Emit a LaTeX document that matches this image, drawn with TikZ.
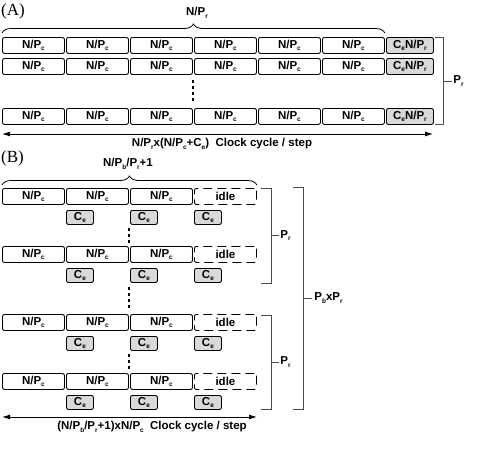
\documentclass[tikz,border=0pt]{standalone}
\usepackage{fontspec}
\setmainfont{Liberation Serif}
\setsansfont{Liberation Sans}
\usetikzlibrary{arrows.meta}
\usetikzlibrary{decorations.pathreplacing}
\usetikzlibrary{calc}

\newcommand{\sbs}[1]{\raisebox{-2.5pt}{\fontsize{6.5}{7}\selectfont #1}}

\begin{document}
\begin{tikzpicture}[x=1pt, y=-1pt]
    \tikzset{
        every node/.style={font=\sffamily\bfseries\fontsize{11.5}{12}\selectfont},
        blk/.style={draw, line width=0.9pt, rounded corners=2pt, anchor=north west, inner sep=0pt,
            minimum width=62pt, minimum height=16pt},
        gblk/.style={blk, fill=gray!30, minimum width=47pt},
        ceblk/.style={blk, fill=gray!30, minimum width=27pt, minimum height=14pt},
        idleblk/.style={blk, dashed, dash pattern=on 9pt off 5pt},
        dots/.style={line width=2.5pt, dash pattern=on 3pt off 3pt},
        brc/.style={decorate, decoration={brace, amplitude=9pt}, line width=0.8pt},
        bkt/.style={gray!60!black, line width=0.9pt},
        span/.style={{Latex[length=8pt,width=5pt]}-{Latex[length=8pt,width=5pt]}, line width=0.9pt}
    }
    \useasboundingbox (0,0) rectangle (491,466);

    % (A)
    \node [font=\rmfamily\fontsize{17}{18}\selectfont, anchor=north west, inner sep=0pt] (labA) at (1,4) {(A)};

    \foreach \r/\y in {1/37, 2/58, 3/108} {
        \foreach \i in {0,...,5} {
            \node [blk] (a\r\i) at ({2+64*\i}, \y) {N/P\sbs{c}};
        }
        \node [gblk] (a\r g) at (386, \y) {C\sbs{e}N/P\sbs{r}};
    }
    \draw [dots] ([xshift=-1pt, yshift=-5pt]a23.south west) -- ([xshift=-1pt, yshift=5pt]a33.north west);

    \draw [brc] ([yshift=4pt]a10.north west) -- ([yshift=4pt]a15.north east);
    \node (nr) at (197,13) {N/P\sbs{r}};

    \coordinate (bt) at ([xshift=10pt]a1g.north east);
    \coordinate (bb) at ([xshift=10pt]a3g.south east);
    \draw [bkt] ([xshift=1pt]a1g.north east) -- (bt) -- (bb) -- ([xshift=1pt]a3g.south east);
    \draw [bkt] ($(bt)!0.5!(bb)$) -- ++(8,0) node [right, inner sep=1pt, black] (pra) {P\sbs{r}};

    \coordinate (al) at (2,134);
    \coordinate (ar) at (433,134);
    \draw [span] (al) -- (ar);
    \node [anchor=north] (clka) at (222,135) {N/P\sbs{r}x(N/P\sbs{c}+C\sbs{e})\ \ Clock cycle / step};

    % (B)
    \node [font=\rmfamily\fontsize{17}{18}\selectfont, anchor=north west, inner sep=0pt] (labB) at (1,151) {(B)};

    \foreach \r/\y in {1/188, 2/246, 3/314, 4/373} {
        \foreach \i in {0,1,2} {
            \node [blk] (b\r\i) at ({2+64*\i}, \y) {N/P\sbs{c}};
            \node [ceblk] (c\r\i) at ({66+64*\i}, \y+22) {C\sbs{e}};
        }
        \node [idleblk] (b\r 3) at (194, \y) {idle};
    }
    \draw [dots] ([xshift=-1pt, yshift=-3pt]c11.south west) -- ([xshift=-1pt, yshift=3pt]b22.north west);
    \draw [dots] ([xshift=-1pt, yshift=-4pt]c21.south west) -- ([xshift=-1pt, yshift=4pt]b32.north west);
    \draw [dots] ([xshift=-1pt, yshift=-3pt]c31.south west) -- ([xshift=-1pt, yshift=3pt]b42.north west);

    \draw [brc] ([yshift=3pt]b10.north west) -- ([yshift=3pt]b13.north east);
    \node (npb) at (128,164) {N/P\sbs{b}/P\sbs{r}+1};

    \coordinate (b1t) at (271,188);
    \coordinate (b1b) at (271,283);
    \draw [bkt] (261,188) -- (b1t) -- (b1b) -- (261,283);
    \draw [bkt] ($(b1t)!0.5!(b1b)$) -- ++(8,0) node [right, inner sep=1pt, black] (prb1) {P\sbs{r}};

    \coordinate (b2t) at (271,315);
    \coordinate (b2b) at (271,409);
    \draw [bkt] (261,315) -- (b2t) -- (b2b) -- (261,409);
    \draw [bkt] ($(b2t)!0.5!(b2b)$) -- ++(8,0) node [right, inner sep=1pt, black] (prb2) {P\sbs{r}};

    \coordinate (bgt) at (303,187);
    \coordinate (bgb) at (303,409);
    \draw [bkt] (293,187) -- (bgt) -- (bgb) -- (293,409);
    \draw [bkt] ($(bgt)!0.5!(bgb)$) -- ++(9,0) node [right, inner sep=2pt, black] (pbr) {P\sbs{b}xP\sbs{r}};

    \coordinate (bl) at (2,417);
    \coordinate (br) at (257,417);
    \draw [span] (bl) -- (br);
    \node [anchor=north] (clkb) at (152,418) {(N/P\sbs{b}/P\sbs{r}+1)xN/P\sbs{c}\ \ Clock cycle / step};
\end{tikzpicture}
\end{document}
